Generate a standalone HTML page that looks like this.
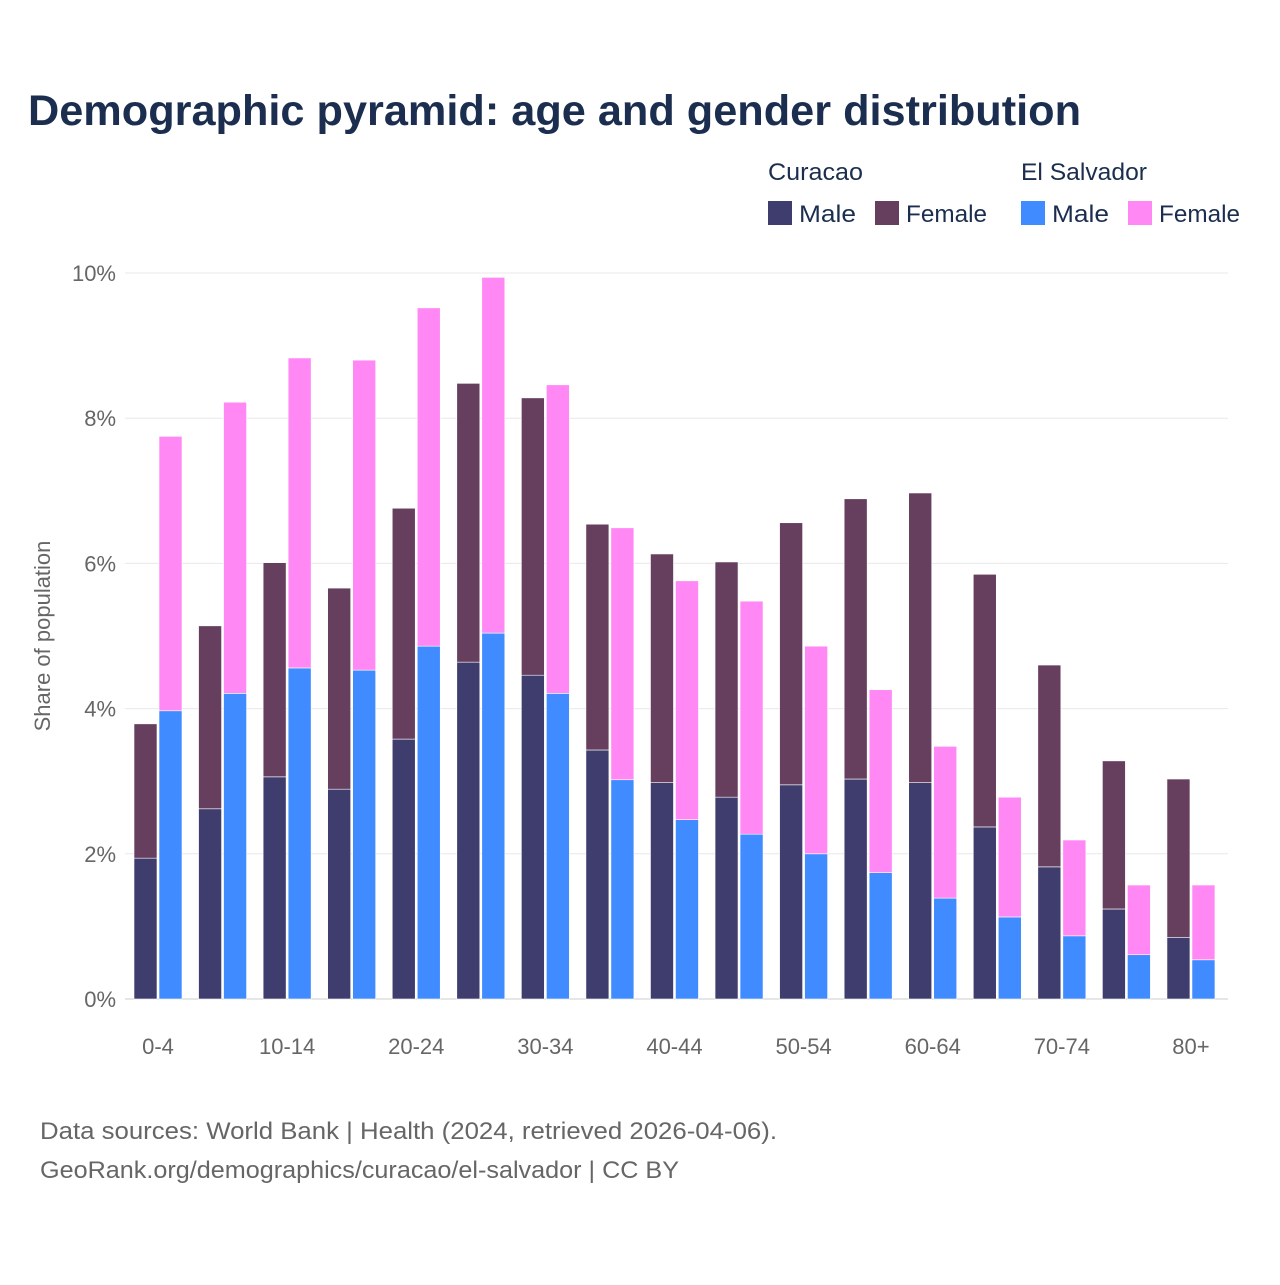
<!DOCTYPE html>
<html><head><meta charset="utf-8"><style>
body{margin:0;background:#fff;font-family:"Liberation Sans",sans-serif}
svg text{font-family:"Liberation Sans",sans-serif}
</style></head><body>
<svg id="c" width="1280" height="1280">
<text x="28" y="125" font-size="43" font-weight="bold" fill="#1b2e4f" textLength="1053" lengthAdjust="spacingAndGlyphs">Demographic pyramid: age and gender distribution</text>
<g font-size="24" fill="#1b2e4f">
<text x="768" y="180" fill="#1b2e4f" textLength="95" lengthAdjust="spacingAndGlyphs">Curacao</text>
<text x="1021" y="180" fill="#1b2e4f" textLength="126" lengthAdjust="spacingAndGlyphs">El Salvador</text>
<rect x="768" y="201" width="24" height="24" fill="#3f3d6e"/>
<text x="799" y="222" fill="#1b2e4f" textLength="57" lengthAdjust="spacingAndGlyphs">Male</text>
<rect x="875" y="201" width="24" height="24" fill="#663f5f"/>
<text x="906" y="222" fill="#1b2e4f" textLength="81" lengthAdjust="spacingAndGlyphs">Female</text>
<rect x="1021" y="201" width="24" height="24" fill="#3f8bff"/>
<text x="1052" y="222" fill="#1b2e4f" textLength="57" lengthAdjust="spacingAndGlyphs">Male</text>
<rect x="1128" y="201" width="24" height="24" fill="#ff88f5"/>
<text x="1159" y="222" fill="#1b2e4f" textLength="81" lengthAdjust="spacingAndGlyphs">Female</text>
</g>
<text transform="translate(50,636) rotate(-90)" text-anchor="middle" font-size="22" fill="#666">Share of population</text>
<g id="grid"></g><g id="bars"></g><g id="xlab"></g>
<text x="40" y="1139" font-size="24" fill="#666" textLength="737" lengthAdjust="spacingAndGlyphs">Data sources: World Bank | Health (2024, retrieved 2026-04-06).</text>
<text x="40" y="1178" font-size="24" fill="#666" textLength="639" lengthAdjust="spacingAndGlyphs">GeoRank.org/demographics/curacao/el-salvador | CC BY</text>
</svg>
<script>
const categories=["0-4","5-9","10-14","15-19","20-24","25-29","30-34","35-39","40-44","45-49","50-54","55-59","60-64","65-69","70-74","75-79","80+"];
const curMale=[1.94,2.62,3.06,2.89,3.58,4.64,4.46,3.43,2.98,2.78,2.95,3.03,2.98,2.37,1.82,1.24,0.85];
const curFemale=[1.85,2.52,2.95,2.77,3.18,3.84,3.82,3.11,3.15,3.24,3.61,3.86,3.99,3.48,2.78,2.04,2.18];
const elsMale=[3.97,4.21,4.56,4.53,4.86,5.04,4.21,3.02,2.47,2.27,2.00,1.74,1.39,1.13,0.87,0.61,0.54];
const elsFemale=[3.78,4.01,4.27,4.27,4.66,4.90,4.25,3.47,3.29,3.21,2.86,2.52,2.09,1.65,1.32,0.96,1.03];
const yTicks=[0,2,4,6,8,10];
const NS="http://www.w3.org/2000/svg";
const y=v=>999-v*72.6;
const xc=i=>158+i*64.56;
function mk(t,a,p){const e=document.createElementNS(NS,t);for(const k in a)e.setAttribute(k,a[k]);p.appendChild(e);return e;}
const grid=document.getElementById('grid'),bars=document.getElementById('bars'),xl=document.getElementById('xlab');
yTicks.forEach(v=>{
const l=mk('line',{x1:125,x2:1228,y1:y(v),y2:y(v),stroke:v===0?'#ccc':'#e8e8e8','stroke-width':1},grid);


const t=mk('text',{x:116,y:y(v)+8,'text-anchor':'end','font-size':22,fill:'#666'},grid);
t.textContent=v+'%';


});
function bar(x,v0,v1,col,name){
const r=mk('rect',{x:x,y:y(v1),width:23,height:y(v0)-y(v1),fill:col,stroke:'#fff','stroke-width':0.6},bars);


}
categories.forEach((c,i)=>{
const cx=xc(i);
bar(cx-24,0,curMale[i],'#3f3d6e','bar-curacao-male');
bar(cx-24,curMale[i],curMale[i]+curFemale[i],'#663f5f','bar-curacao-female');
bar(cx+1,0,elsMale[i],'#3f8bff','bar-elsalvador-male');
bar(cx+1,elsMale[i],elsMale[i]+elsFemale[i],'#ff88f5','bar-elsalvador-female');
if(i%2===0){
const t=mk('text',{x:cx,y:1054,'text-anchor':'middle','font-size':22,fill:'#666'},xl);
t.textContent=c;


}
});
</script>
</body></html>
